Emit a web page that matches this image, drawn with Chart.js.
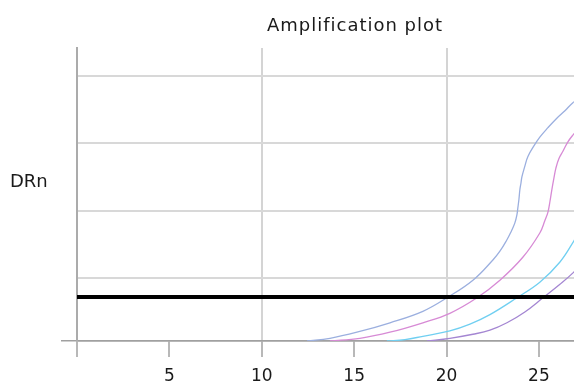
<!DOCTYPE html>
<html>
<head>
<meta charset="utf-8">
<script src="https://cdn.jsdelivr.net/npm/chart.js@4"></script>
<style>
html, body { margin: 0; padding: 0; background: #fff; }
#wrap { width: 574px; height: 381px; }
</style>
</head>
<body>
<div id="wrap"><canvas id="myChart" width="574" height="381"></canvas></div>
<script>
// Texts and axis ticks
let chartTitle = "Amplification plot";
let yLabel = "DRn";
let xTicks = [0, 5, 10, 15, 20, 25];
let yTicks = [0, 0.93, 1.93, 2.93, 3.93];
let threshold = 0.65;

// Curves (cycle, DRn)
let blueX = [12.45, 13.69, 15.15, 16.94, 18.72, 20.02, 21.43, 22.51, 22.89, 23.27, 23.48, 23.70, 23.81, 23.86,
             23.92, 23.97, 24.03, 24.08, 24.24, 24.40, 24.73, 25.05, 25.49, 25.97, 26.41, 26.84, 27.76];
let blueY = [0, 0.04, 0.13, 0.27, 0.44, 0.64, 0.90, 1.20, 1.33, 1.50, 1.61, 1.75, 1.87, 1.97,
             2.10, 2.24, 2.34, 2.43, 2.59, 2.73, 2.89, 3.02, 3.16, 3.30, 3.41, 3.53, 3.72];
let pinkX = [13.69, 15.31, 16.94, 18.72, 20.18, 21.65, 22.89, 24.13, 25.05, 25.32, 25.49, 25.60, 25.70,
             25.81, 25.92, 26.08, 26.30, 26.57, 26.84, 27.76];
let pinkY = [0, 0.04, 0.13, 0.27, 0.41, 0.64, 0.90, 1.24, 1.60, 1.78, 1.91, 2.07, 2.24,
             2.41, 2.56, 2.70, 2.81, 2.95, 3.05, 3.35];
let cyanX = [16.77, 17.75, 18.72, 20.18, 21.27, 22.35, 23.81, 25.05, 26.14, 26.89, 27.76];
let cyanY = [0, 0.02, 0.07, 0.15, 0.25, 0.39, 0.64, 0.87, 1.17, 1.48, 1.87];
let purpleX = [18.94, 20.18, 21.43, 22.35, 23.27, 24.24, 25.22, 26.14, 26.89, 27.76];
let purpleY = [0, 0.04, 0.10, 0.16, 0.27, 0.43, 0.64, 0.84, 1.02, 1.27];

let xMax = 26.9;
let yMax = 4.34;

function pairs(xs, ys) {
    return xs.map((x, i) => ({x: x, y: ys[i]}));
}

function curve(xs, ys, color) {
    return {
        data: pairs(xs, ys),
        borderColor: color,
        borderWidth: 1.3,
        showLine: true,
        pointRadius: 0,
        tension: 0.4
    };
}

// title and the y label are drawn as plain text
const textPlugin = {
    id: 'texts',
    afterDraw(chart) {
        const c = chart.ctx;
        c.save();
        c.fillStyle = '#1a1a1a';
        c.font = '18px "DejaVu Sans"';
        c.letterSpacing = '1px';
        c.textAlign = 'center';
        c.textBaseline = 'alphabetic';
        c.fillText(chartTitle, 355, 31);
        c.letterSpacing = '0px';
        c.textAlign = 'left';
        c.fillText(yLabel, 10, 187);
        c.restore();
    }
};

let ctx = document.getElementById("myChart");
let myChart;

document.fonts.load('18px "DejaVu Sans"').then(function () {
    myChart = new Chart(ctx, {
        type: 'scatter',
        data: {
            datasets: [
                {
                    data: [{x: 0, y: threshold}, {x: xMax, y: threshold}],
                    borderColor: '#000',
                    borderWidth: 4,
                    showLine: true,
                    pointRadius: 0,
                    tension: 0
                },
                curve(blueX, blueY, '#9bafdf'),
                curve(pinkX, pinkY, '#d78ad5'),
                curve(cyanX, cyanY, '#70cff1'),
                curve(purpleX, purpleY, '#a486d2')
            ]
        },
        options: {
            responsive: false,
            animation: false,
            layout: {padding: {top: 48, left: 0, right: 0, bottom: 0}},
            plugins: {
                legend: {display: false},
                tooltip: {enabled: false},
                title: {display: false}
            },
            scales: {
                x: {
                    type: 'linear',
                    min: 0,
                    max: xMax,
                    afterBuildTicks: s => { s.ticks = xTicks.map(v => ({value: v})); },
                    afterFit: s => { s.height = 40; },
                    ticks: {
                        color: '#1a1a1a',
                        font: {family: 'DejaVu Sans', size: 17},
                        padding: 9,
                        maxRotation: 0,
                        autoSkip: false,
                        callback: v => v === 0 ? '' : String(v)
                    },
                    grid: {
                        color: c => (c.tick && c.tick.value % 10 === 0 && c.tick.value !== 0) ? '#d4d4d4' : 'rgba(0,0,0,0)',
                        lineWidth: 2,
                        tickLength: 16,
                        tickColor: '#a0a0a0',
                        tickWidth: 1.5
                    },
                    border: {color: '#a0a0a0', width: 1.5}
                },
                y: {
                    type: 'linear',
                    min: 0,
                    max: yMax,
                    afterBuildTicks: s => { s.ticks = yTicks.map(v => ({value: v})); },
                    afterFit: s => { s.width = 77; },
                    ticks: {display: false},
                    grid: {
                        color: c => (c.tick && c.tick.value === 0) ? '#a0a0a0' : '#d8d8d8',
                        lineWidth: c => (c.tick && c.tick.value === 0) ? 1.5 : 2,
                        tickLength: 16,
                        tickColor: c => (c.tick && c.tick.value === 0) ? '#a0a0a0' : 'rgba(0,0,0,0)',
                        tickWidth: 1.5
                    },
                    border: {color: '#ababab', width: 2}
                }
            }
        },
        plugins: [textPlugin]
    });
});
</script>
</body>
</html>
